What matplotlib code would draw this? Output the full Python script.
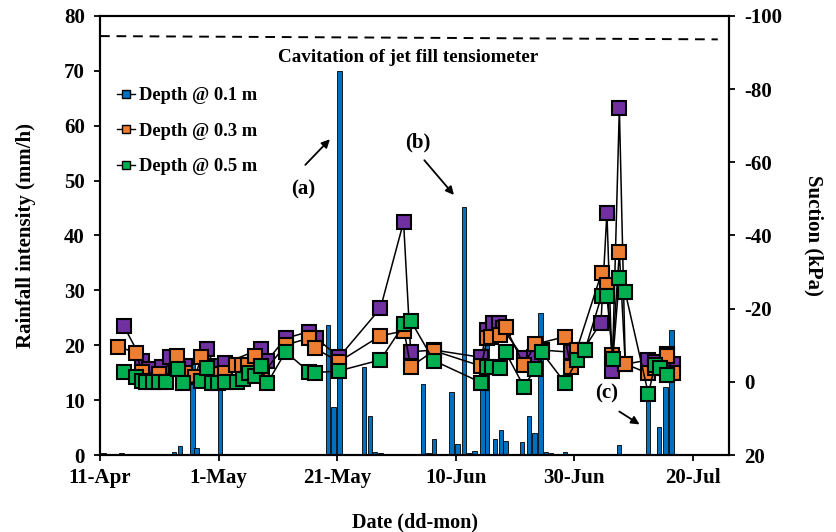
import matplotlib
matplotlib.use("Agg")
import matplotlib.pyplot as plt
import matplotlib.dates as mdates
from matplotlib.lines import Line2D
import pandas as pd

START = pd.Timestamp("2019-04-11")

# rainfall bars: day offset from 11-Apr, intensity (mm/h)
rain_day = [0.6, 3.6, 12.5, 13.5, 15.6, 16.3, 20.2, 38.5, 39.4, 40.4, 44.5, 45.5,
            46.4, 47.3, 54.5, 55.4, 56.3, 59.3, 60.3, 61.4, 62.3, 63.2, 64.5, 65.3,
            66.6, 67.6, 68.4, 71.2, 72.4, 73.3, 74.3, 75.2, 76.1, 78.4, 87.5, 92.4,
            94.3, 95.4, 96.4]
rain_mm = [0.3, 0.3, 0.5, 1.6, 16.5, 1.3, 16.5, 23.7, 8.8, 70.0, 16.0, 7.1,
           0.6, 0.3, 12.9, 0.3, 3.0, 11.4, 2.0, 45.2, 0.3, 0.8, 15.0, 20.6,
           3.0, 4.6, 2.6, 2.4, 7.2, 4.0, 25.9, 0.5, 0.4, 0.6, 1.8, 11.0,
           5.1, 12.4, 22.8]

# suction at 0.1 m (kPa)
d01_day = [4.0, 7.1, 8.2, 10.5, 11.8, 14.4, 18.0, 19.3, 21.1, 27.1, 28.2, 31.3,
           35.2, 36.4, 40.3, 47.3, 51.2, 52.4, 56.3, 64.3, 65.3, 66.3, 67.3, 67.9,
           71.5, 73.2, 74.5, 79.4, 81.5, 84.5, 85.5, 86.4, 87.6, 88.6, 92.5, 93.6,
           95.6, 96.7]
d01_kpa = [-15.3, -5.8, -3.5, -4.0, -6.7, -4.4, -9.0, -4.2, -5.1, -9.0, -5.8, -11.9,
           -13.7, -12.1, -6.7, -20.1, -43.7, -8.2, -8.7, -6.7, -14.3, -16.2, -16.2, -14.6,
           -6.4, -6.7, -8.7, -8.1, -8.7, -16.2, -46.2, -3.0, -74.8, -4.8, -6.0, -5.4,
           -7.6, -4.8]

# suction at 0.3 m (kPa)
d03_day = [3.0, 6.1, 7.0, 10.0, 13.0, 14.3, 16.0, 17.1, 18.9, 21.1, 23.0, 23.9,
           24.9, 26.1, 27.4, 31.3, 35.2, 36.2, 40.3, 47.3, 51.3, 52.4, 56.3, 64.3,
           65.3, 66.0, 67.4, 68.4, 71.5, 73.4, 78.4, 79.4, 80.4, 84.6, 85.5, 86.4,
           87.6, 88.6, 92.5, 93.6, 95.6, 96.7]
d03_kpa = [-9.6, -8.0, -2.8, -2.1, -7.1, -2.4, -1.4, -6.7, -2.1, -2.5, -4.6, -4.6,
           -4.6, -7.1, -2.1, -10.1, -11.9, -9.2, -5.5, -12.6, -13.9, -4.1, -8.5, -4.3,
           -11.9, -12.3, -12.8, -14.9, -4.6, -10.3, -12.3, -4.0, -8.7, -29.8, -26.5, -7.3,
           -35.4, -4.9, -2.3, -3.8, -7.1, -2.5]

# suction at 0.5 m (kPa)
d05_day = [4.0, 6.1, 7.0, 7.8, 8.9, 9.9, 11.1, 13.1, 14.0, 17.1, 18.0, 18.9,
           19.9, 21.1, 23.1, 24.1, 25.1, 26.1, 27.1, 28.2, 31.3, 35.2, 36.2, 40.3,
           47.3, 51.3, 52.4, 56.3, 64.3, 65.3, 66.2, 67.4, 68.4, 71.5, 73.4, 74.5,
           78.4, 80.5, 81.8, 84.6, 85.5, 86.5, 87.6, 88.6, 92.5, 93.6, 94.5, 95.6]
d05_kpa = [-2.8, -1.2, -0.2, 0.1, 0.1, 0.1, 0.1, -3.5, 0.4, -0.2, -3.9, 0.2,
           0.2, 0.1, 0.1, -0.9, -2.3, -1.7, -4.4, 0.4, -8.2, -2.8, -2.5, -3.0,
           -6.0, -15.8, -16.7, -5.8, 0.2, -4.0, -4.0, -3.7, -8.1, 1.3, -3.5, -8.1,
           0.2, -6.0, -8.7, -23.5, -23.5, -6.2, -28.5, -24.5, 3.3, -4.6, -3.7, -1.9]

# cavitation limit line (kPa), start and end
cav_day = [0.0, 104.2]
cav_kpa = [-94.5, -93.6]

tick_day = [0, 20, 40, 60, 80, 100]

BLUE = "#0070C0"
ORANGE = "#ED7D31"
GREEN = "#00B050"
PURPLE = "#7030A0"


def to_date(days):
    return [START + pd.Timedelta(days=d) for d in days]


def day(d):
    return START + pd.Timedelta(days=d)


plt.rcParams["font.family"] = ["Liberation Serif", "DejaVu Serif"]
plt.rcParams["font.weight"] = "bold"
plt.rcParams["axes.unicode_minus"] = False

fig = plt.figure(figsize=(8.37, 5.32), dpi=100)
ax = fig.add_axes([0.1195, 0.1447, 0.7515, 0.8253])
ax2 = ax.twinx()

# rainfall bars
ax.bar(to_date(rain_day), rain_mm, width=0.75, color=BLUE,
       edgecolor="black", linewidth=0.6, zorder=2)
ax.set_ylim(0, 80)
ax.set_yticks(range(0, 81, 10))
ax.set_xlim(START, day(106.1))
ax.set_xticks(to_date(tick_day))
ax.xaxis.set_major_formatter(
    matplotlib.ticker.FuncFormatter(
        lambda v, p: mdates.num2date(v).strftime("%-d-%b")))

# suction series
for days, vals, col in [(d01_day, d01_kpa, PURPLE),
                        (d03_day, d03_kpa, ORANGE),
                        (d05_day, d05_kpa, GREEN)]:
    ax2.plot(to_date(days), vals, color="black", linewidth=1.1,
             marker="s", markersize=10, markerfacecolor=col,
             markeredgecolor="black", markeredgewidth=1.5)

ax2.plot(to_date(cav_day), cav_kpa, color="black", linewidth=1.4,
         linestyle=(0, (5, 3.5)))
ax2.set_ylim(20, -100)
ax2.set_yticks(range(-100, 21, 20))

ax2.text(0.49, 0.905, "Cavitation of jet fill tensiometer", transform=ax.transAxes,
         ha="center", va="center", fontsize=13.8, fontweight="bold")

for a in (ax, ax2):
    a.tick_params(direction="out", length=4, width=1.3, labelsize=15, pad=7)
    for s in a.spines.values():
        s.set_linewidth(1.5)
ax.tick_params(axis="x", pad=5)

ax.set_ylabel("Rainfall intensity (mm/h)", fontsize=15, fontweight="bold", labelpad=20)
ax2.set_ylabel("Suction (kPa)", fontsize=15, fontweight="bold", rotation=270,
               labelpad=30)
ax.set_xlabel("Date (dd-mon)", fontsize=14.5, fontweight="bold", labelpad=18)

# annotations
arrow = dict(arrowstyle="-|>", color="black", lw=1.3, mutation_scale=12)
ax.annotate("", xy=(day(39.1), 57.9), xytext=(day(34.3), 52.5), arrowprops=arrow)
ax.text(day(34.2), 48.3, "(a)", ha="center", va="center", fontsize=15)
ax.annotate("", xy=(day(60.0), 47.0), xytext=(day(54.4), 54.1), arrowprops=arrow)
ax.text(day(53.6), 57.0, "(b)", ha="center", va="center", fontsize=15)
ax.annotate("", xy=(day(91.4), 5.3), xytext=(day(87.2), 8.2), arrowprops=arrow)
ax.text(day(85.5), 11.3, "(c)", ha="center", va="center", fontsize=15)

# legend (handles as in the source figure)
handles = [Line2D([], [], color="black", lw=1, marker="s", markersize=6,
                  markerfacecolor=c, markeredgecolor="black")
           for c in (BLUE, ORANGE, GREEN)]
ax2.legend(handles, ["Depth @ 0.1 m", "Depth @ 0.3 m", "Depth @ 0.5 m"],
           loc="upper left", bbox_to_anchor=(0.0, 0.875), frameon=False,
           fontsize=13.3, handlelength=1.0, handletextpad=0.2, labelspacing=1.0)

fig.savefig("out.png", dpi=100)
